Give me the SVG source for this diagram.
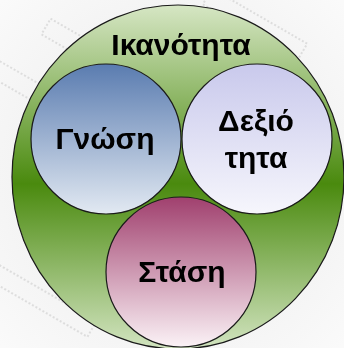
<svg xmlns="http://www.w3.org/2000/svg" width="344" height="348" viewBox="0 0 344 348">
<defs>
<linearGradient id="gOuter" x1="0" y1="0" x2="0" y2="1">
<stop offset="0" stop-color="#d6e6c4"/>
<stop offset="0.52" stop-color="#4a8a0e"/>
<stop offset="1" stop-color="#d2e4c0"/>
</linearGradient>
<linearGradient id="gGn" x1="0" y1="0" x2="0" y2="1">
<stop offset="0" stop-color="#5a7cb0"/>
<stop offset="1" stop-color="#e2e9f2"/>
</linearGradient>
<linearGradient id="gDe" x1="0" y1="0" x2="0" y2="1">
<stop offset="0" stop-color="#c9c9ec"/>
<stop offset="1" stop-color="#f6f6fc"/>
</linearGradient>
<linearGradient id="gSt" x1="0" y1="0" x2="0" y2="1">
<stop offset="0" stop-color="#a0406e"/>
<stop offset="1" stop-color="#fbf2f6"/>
</linearGradient>
<radialGradient id="gBg" cx="0.5" cy="0.5" r="0.7">
<stop offset="0" stop-color="#e8e8e8"/>
<stop offset="1" stop-color="#fafafa"/>
</radialGradient>
</defs>
<style>
.c{stroke:#1a1a1a;stroke-width:1.2}
.t{font-family:"Liberation Sans",Arial,sans-serif;font-weight:bold;fill:#000;text-anchor:middle}
.bgl{fill:none;stroke:#d8d8d8;stroke-width:2;stroke-dasharray:2 2}
</style>
<rect width="344" height="348" fill="url(#gBg)"/>
<g opacity="0.8">
<rect class="bgl" x="40" y="40" width="90" height="18" transform="rotate(30 85 49)"/>
<rect class="bgl" x="200" y="15" width="110" height="18" transform="rotate(30 255 24)"/>
<rect class="bgl" x="-10" y="80" width="80" height="18" transform="rotate(30 30 89)"/>
<rect class="bgl" x="-20" y="290" width="120" height="18" transform="rotate(30 40 299)"/>
</g>
<g id="ikanotita">
<ellipse class="c" cx="178" cy="177" rx="166" ry="172" fill="url(#gOuter)"/>
<text class="t" x="181" y="55" font-size="30">Ικανότητα</text>
</g>
<g id="gnosi">
<circle class="c" cx="106" cy="139" r="75" fill="url(#gGn)"/>
<text class="t" x="105" y="149" font-size="30">Γνώση</text>
</g>
<g id="dexiotita">
<circle class="c" cx="257" cy="139" r="75" fill="url(#gDe)"/>
<text class="t" x="256" y="131" font-size="30">Δεξιό</text>
<text class="t" x="256" y="168" font-size="30">τητα</text>
</g>
<g id="stasi">
<circle class="c" cx="181" cy="272" r="75" fill="url(#gSt)"/>
<text class="t" x="182" y="282" font-size="30">Στάση</text>
</g>
<g id="connectors"/>
</svg>
